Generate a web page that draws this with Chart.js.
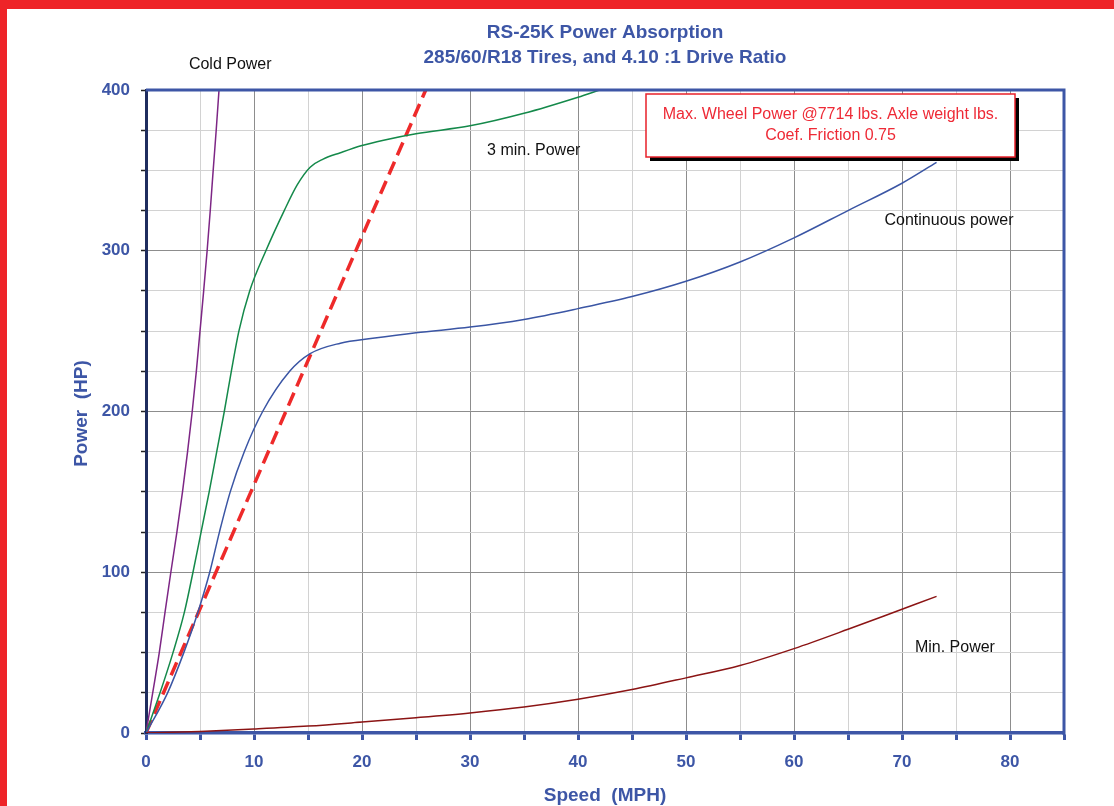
<!DOCTYPE html>
<html>
<head>
<meta charset="utf-8">
<script src="https://cdn.jsdelivr.net/npm/chart.js@4.4.1/dist/chart.umd.min.js"></script>
<style>
    html, body { margin: 0; padding: 0; background: #fff; }
    #wrap { position: relative; width: 1114px; height: 806px; overflow: hidden; }
    #wrap canvas { position: absolute; left: 0; top: 0; }
    .band-top { position: absolute; left: 0; top: 0; width: 1114px; height: 9px; background: #ee2428; }
    .band-left { position: absolute; left: 0; top: 0; width: 7px; height: 806px; background: #ee2428; }
</style>
</head>
<body>
<div id="wrap">
    <canvas id="powerChart" width="1114" height="806"></canvas>
    <div class="band-top"></div>
    <div class="band-left"></div>
</div>
<script>
// Chart data
const titleLines = ['RS-25K Power Absorption', '285/60/R18 Tires, and 4.10 :1 Drive Ratio'];
const xTitle = 'Speed  (MPH)';
const yTitle = 'Power  (HP)';
const xLabelStep = 10;
const yLabelStep = 100;

const coldSpeed = [0, 0.62, 1.23, 1.76, 2.3, 2.86, 3.38, 3.85, 4.28, 4.66, 5.0, 5.34, 5.66, 5.95, 6.22, 6.5, 6.76];
const coldPower = [0, 25, 50, 75, 100, 125, 150, 175, 200, 225, 250, 275, 300, 325, 350, 375, 400];

const threeMinSpeed = [0, 1.3, 2.5, 3.55, 4.35, 5.1, 5.85, 6.55, 7.25, 7.9, 8.6, 9.6, 11.1, 12.8, 14.0, 15.2, 16.4, 18, 20, 22, 25, 30, 35, 40, 42];
const threeMinPower = [0, 25, 50, 75, 100, 125, 150, 175, 200, 225, 250, 275, 300, 325, 341, 352, 357, 361, 365.5, 368.8, 372.8, 377.7, 385.5, 395.5, 400];

const contSpeed = [0, 2, 3.5, 4.8, 5.9, 6.8, 7.8, 9.1, 10.8, 13.3, 15.2, 18, 21, 25, 30, 35, 40, 45, 50, 55, 60, 65, 70, 73.2];
const contPower = [0, 25, 50, 75, 100, 125, 150, 175, 200, 225, 236, 242.5, 245.5, 249, 252.5, 257.3, 264, 271.5, 281, 293, 308, 325, 342, 355];

const minSpeed = [0, 5, 10, 15, 20, 25, 30, 35, 40, 45, 50, 55, 60, 65, 70, 73.2];
const minPower = [0, 1, 2.5, 4.3, 6.8, 9.5, 12.5, 16.2, 21, 27, 34.3, 42, 52.5, 64.5, 77, 85];

const maxWheelSpeed = [0, 25.9];
const maxWheelPower = [0, 400];

const BLUE = '#3d56a6';
const FONT = "'Liberation Sans', Arial, sans-serif";

const toPoints = (xs, ys) => xs.map((x, i) => ({ x: x, y: ys[i] }));

function series(label, xs, ys, color, extra) {
    return Object.assign({
        label: label,
        data: toPoints(xs, ys),
        showLine: true,
        borderColor: color,
        borderWidth: 1.5,
        pointRadius: 0,
        cubicInterpolationMode: 'monotone',
        fill: false
    }, extra || {});
}

// Text labels, frame and the note box
const chartText = {
    id: 'chartText',
    afterDraw(chart) {
        const ctx = chart.ctx;
        const a = chart.chartArea;
        const xs = chart.scales.x;
        const ys = chart.scales.y;
        const px = v => xs.getPixelForValue(v);
        const py = v => ys.getPixelForValue(v);

        ctx.save();
        // top and right frame
        ctx.strokeStyle = BLUE;
        ctx.lineWidth = 3;
        ctx.beginPath();
        ctx.moveTo(a.left, a.top);
        ctx.lineTo(a.right, a.top);
        ctx.lineTo(a.right, a.bottom + 2);
        ctx.stroke();

        ctx.textAlign = 'center';
        ctx.textBaseline = 'middle';

        // title
        ctx.fillStyle = BLUE;
        ctx.font = 'bold 19px ' + FONT;
        const cx = (a.left + a.right) / 2;
        ctx.fillText(titleLines[0], cx, 33);
        ctx.fillText(titleLines[1], cx, 58);

        // axis titles
        ctx.fillText(xTitle, cx, 796);
        ctx.save();
        ctx.translate(82, (a.top + a.bottom) / 2 + 2);
        ctx.rotate(-Math.PI / 2);
        ctx.fillText(yTitle, 0, 0);
        ctx.restore();

        // curve labels
        ctx.fillStyle = '#111';
        ctx.font = '16px ' + FONT;
        ctx.fillText('Cold Power', px(7.8), py(415.5));
        ctx.fillText('3 min. Power', px(35.9), py(362));
        ctx.fillText('Continuous power', px(74.35), py(318.5));
        ctx.fillText('Min. Power', px(74.9), py(53));

        // note box
        const bx = 646, by = 94, bw = 369, bh = 63;
        ctx.fillStyle = '#000';
        ctx.fillRect(bx + 4, by + 4, bw, bh);
        ctx.fillStyle = '#fff';
        ctx.fillRect(bx, by, bw, bh);
        ctx.strokeStyle = '#e8202a';
        ctx.lineWidth = 1.5;
        ctx.strokeRect(bx, by, bw, bh);
        ctx.fillStyle = '#ee2a36';
        ctx.fillText('Max. Wheel Power @7714 lbs. Axle weight lbs.', bx + bw / 2, 115);
        ctx.fillText('Coef. Friction 0.75', bx + bw / 2, 136);
        ctx.restore();
    }
};

const ctx = document.getElementById('powerChart').getContext('2d');
new Chart(ctx, {
    type: 'scatter',
    data: {
        datasets: [
            series('Min. Power', minSpeed, minPower, '#8b1414'),
            series('Continuous power', contSpeed, contPower, '#3a55a4'),
            series('3 min. Power', threeMinSpeed, threeMinPower, '#14894a'),
            series('Cold Power', coldSpeed, coldPower, '#7d2685'),
            series('Max. Wheel Power', maxWheelSpeed, maxWheelPower, '#ee2a2a', {
                borderWidth: 3.5,
                borderDash: [14, 7],
                cubicInterpolationMode: 'default',
                tension: 0
            })
        ]
    },
    options: {
        responsive: false,
        animation: false,
        layout: { padding: { left: 20, right: 50, top: 90, bottom: 0 } },
        plugins: {
            legend: { display: false },
            tooltip: { enabled: false }
        },
        scales: {
            x: {
                type: 'linear',
                min: 0,
                max: 85,
                afterFit(scale) { scale.height = 73; },
                ticks: {
                    stepSize: 5,
                    autoSkip: false,
                    maxRotation: 0,
                    color: BLUE,
                    padding: 12,
                    font: { family: FONT, size: 17, weight: 'bold' },
                    callback: v => (v % xLabelStep === 0 ? v : '')
                },
                grid: {
                    color: c => (c.tick && c.tick.value % 10 === 0 ? '#8d8d8d' : '#d2d2d2'),
                    lineWidth: 1,
                    tickColor: BLUE,
                    tickLength: 7,
                    tickWidth: 3
                },
                border: { color: BLUE, width: 3.5 }
            },
            y: {
                min: 0,
                max: 400,
                afterFit(scale) { scale.width = 126; },
                ticks: {
                    stepSize: 25,
                    autoSkip: false,
                    color: BLUE,
                    padding: 11,
                    font: { family: FONT, size: 17, weight: 'bold' },
                    callback: v => (v % yLabelStep === 0 ? v : '')
                },
                grid: {
                    color: c => (c.tick && c.tick.value % 100 === 0 ? '#8d8d8d' : '#d2d2d2'),
                    lineWidth: 1,
                    tickColor: '#222',
                    tickLength: 5,
                    tickWidth: 1.5
                },
                border: { color: '#1f2d5e', width: 3 }
            }
        }
    },
    plugins: [chartText]
});
</script>
</body>
</html>
